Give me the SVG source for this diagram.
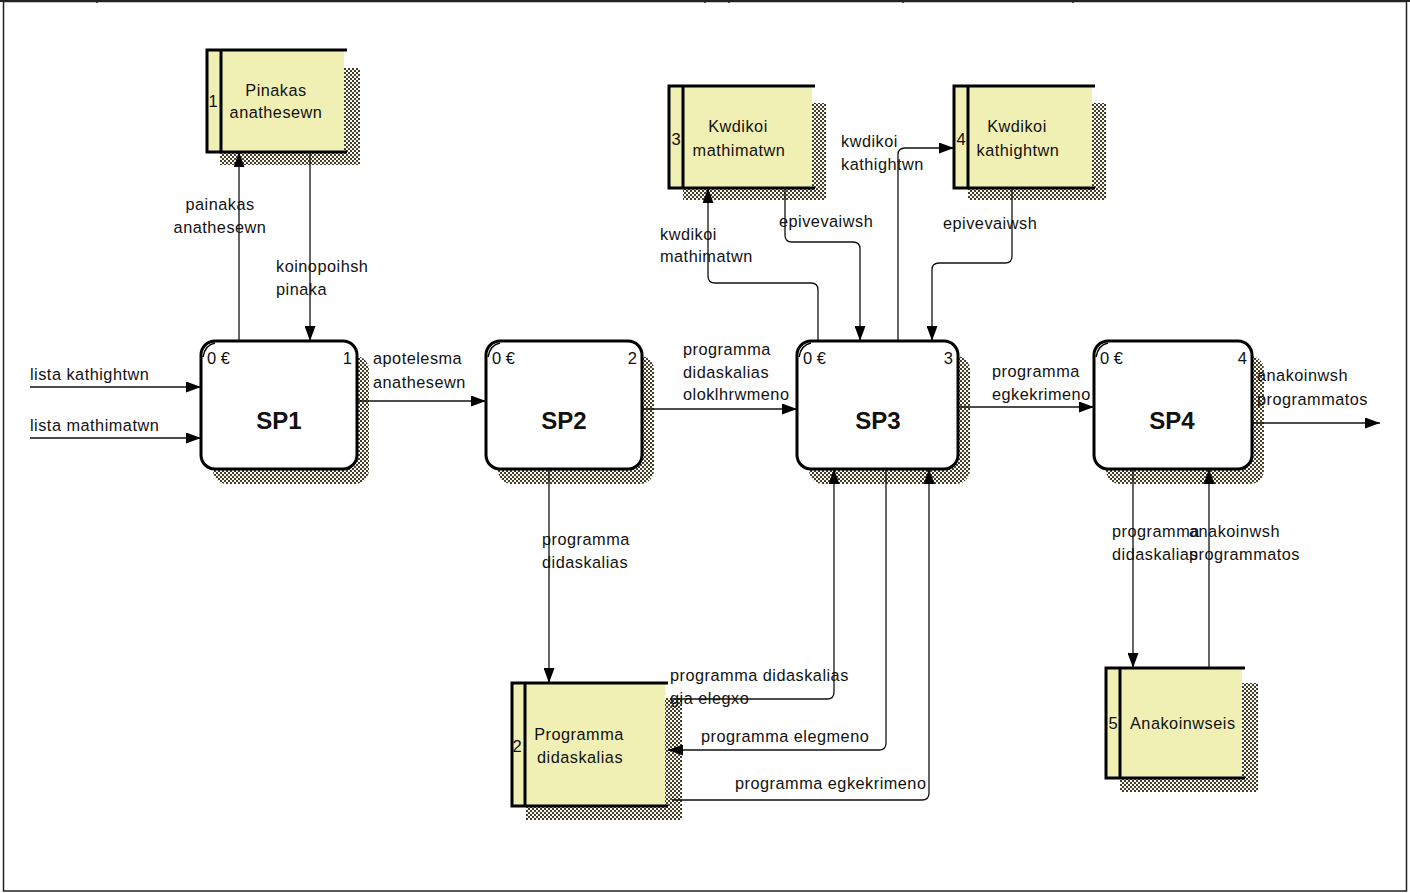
<svg xmlns="http://www.w3.org/2000/svg" width="1410" height="893" viewBox="0 0 1410 893">
  <style>
    .lbl { font-family: "Liberation Sans", Arial, sans-serif; font-size: 16.3px; letter-spacing: 0.5px; fill: #111; }
    .num { font-family: "Liberation Sans", Arial, sans-serif; font-size: 16.5px; fill: #111; }
    .sp { font-family: "Liberation Sans", Arial, sans-serif; font-size: 24px; font-weight: bold; fill: #111; text-anchor: middle; }
    .proc { fill: #ffffff; stroke: #000; stroke-width: 3; }
    .shadow { fill: url(#dots); }
    .storefill { fill: #f0efb4; stroke: none; }
    .storeline { stroke: #000; stroke-width: 3; fill: none; }
    .flow { fill: none; stroke: #111; stroke-width: 1.3; }
    .corner { fill: none; stroke: #000; stroke-width: 1.5; }
    .frame { fill: none; stroke: #222; stroke-width: 1.5; }
  </style>
  <defs>
    <pattern id="dots" width="4" height="4" patternUnits="userSpaceOnUse">
      <rect width="4" height="4" fill="#fdf9e4"/>
      <rect x="0" y="0" width="2" height="2" fill="#000" fill-opacity="0.75"/>
      <rect x="2" y="2" width="2" height="2" fill="#000" fill-opacity="0.75"/>
    </pattern>
    <marker id="arr" markerUnits="userSpaceOnUse" viewBox="0 0 15 11" markerWidth="15" markerHeight="11" refX="15" refY="5.5" orient="auto">
      <path d="M0,0 L15,5.5 L0,11 z" fill="#000"/>
    </marker>
  </defs>

  <!-- page frame -->
  <rect x="0" y="0" width="1410" height="893" fill="#ffffff"/>
  <rect x="3.5" y="1.5" width="1403" height="889.5" class="frame"/>
  <line x1="0" y1="1" x2="1410" y2="1" stroke="#222" stroke-width="2"/>
  <g stroke="#222" stroke-width="1.5">
    <line x1="97" y1="0" x2="97" y2="3"/>
    <line x1="705" y1="0" x2="705" y2="3"/>
    <line x1="729" y1="0" x2="729" y2="3"/>
    <line x1="903" y1="0" x2="903" y2="3"/>
    <line x1="1073" y1="0" x2="1073" y2="3"/>
  </g>

  <!-- data stores -->
  <g id="store1">
    <rect class="shadow" x="220" y="68" width="140" height="97"/>
    <rect class="storefill" x="207" y="50" width="137" height="102"/>
    <path class="storeline" d="M347 50 H207 V152 H347 M221 50 V152"/>
    <text class="num" x="213" y="107" text-anchor="middle">1</text>
    <text class="lbl" x="276" y="96" text-anchor="middle">Pinakas</text>
    <text class="lbl" x="276" y="118" text-anchor="middle">anathesewn</text>
  </g>

  <g id="store3">
    <rect class="shadow" x="683" y="103" width="143" height="97"/>
    <rect class="storefill" x="669" y="86" width="143" height="102"/>
    <path class="storeline" d="M815 86 H669 V188 H815 M683 86 V188"/>
    <text class="num" x="676" y="145" text-anchor="middle">3</text>
    <text class="lbl" x="738" y="132" text-anchor="middle">Kwdikoi</text>
    <text class="lbl" x="739" y="156" text-anchor="middle">mathimatwn</text>
  </g>

  <g id="store4">
    <rect class="shadow" x="968" y="103" width="138" height="97"/>
    <rect class="storefill" x="954" y="86" width="138" height="102"/>
    <path class="storeline" d="M1095 86 H954 V188 H1095 M968 86 V188"/>
    <text class="num" x="961" y="145" text-anchor="middle">4</text>
    <text class="lbl" x="1017" y="132" text-anchor="middle">Kwdikoi</text>
    <text class="lbl" x="1018" y="156" text-anchor="middle">kathightwn</text>
  </g>

  <g id="store2">
    <rect class="shadow" x="526" y="698" width="156" height="122"/>
    <rect class="storefill" x="512" y="683" width="153" height="123"/>
    <path class="storeline" d="M668 683 H512 V806 H668 M525 683 V806"/>
    <text class="num" x="517" y="752" text-anchor="middle">2</text>
    <text class="lbl" x="579" y="740" text-anchor="middle">Programma</text>
    <text class="lbl" x="580" y="763" text-anchor="middle">didaskalias</text>
  </g>

  <g id="store5">
    <rect class="shadow" x="1120" y="683" width="138" height="109"/>
    <rect class="storefill" x="1106" y="668" width="136" height="110"/>
    <path class="storeline" d="M1245 668 H1106 V778 H1245 M1120 668 V778"/>
    <text class="num" x="1113" y="729" text-anchor="middle">5</text>
    <text class="lbl" x="1130" y="729">Anakoinwseis</text>
  </g>

  <!-- processes -->
  <g id="sp1">
    <rect class="shadow" x="213" y="356" width="156" height="128" rx="14"/>
    <rect class="proc" x="201" y="341" width="156" height="128" rx="14"/>
    <path class="corner" d="M203 357 Q205 345 215 343"/>
    <text class="num" x="207" y="364">0 €</text>
    <text class="num" x="352" y="364" text-anchor="end">1</text>
    <text class="sp" x="279" y="429">SP1</text>
  </g>

  <g id="sp2">
    <rect class="shadow" x="498" y="356" width="156" height="128" rx="14"/>
    <rect class="proc" x="486" y="341" width="156" height="128" rx="14"/>
    <path class="corner" d="M488 357 Q490 345 500 343"/>
    <text class="num" x="492" y="364">0 €</text>
    <text class="num" x="637" y="364" text-anchor="end">2</text>
    <text class="sp" x="564" y="429">SP2</text>
  </g>

  <g id="sp3">
    <rect class="shadow" x="809" y="356" width="161" height="128" rx="14"/>
    <rect class="proc" x="797" y="341" width="161" height="128" rx="14"/>
    <path class="corner" d="M799 357 Q801 345 811 343"/>
    <text class="num" x="803" y="364">0 €</text>
    <text class="num" x="953" y="364" text-anchor="end">3</text>
    <text class="sp" x="878" y="429">SP3</text>
  </g>

  <g id="sp4">
    <rect class="shadow" x="1106" y="356" width="158" height="128" rx="14"/>
    <rect class="proc" x="1094" y="341" width="158" height="128" rx="14"/>
    <path class="corner" d="M1096 357 Q1098 345 1108 343"/>
    <text class="num" x="1100" y="364">0 €</text>
    <text class="num" x="1247" y="364" text-anchor="end">4</text>
    <text class="sp" x="1172" y="429">SP4</text>
  </g>

  <!-- data flows -->
  <g id="flows">
    <path class="flow" marker-end="url(#arr)" d="M30 387 H201"/>
    <path class="flow" marker-end="url(#arr)" d="M30 438 H201"/>
    <path class="flow" marker-end="url(#arr)" d="M239 341 V152"/>
    <path class="flow" marker-end="url(#arr)" d="M310 152 V341"/>
    <path class="flow" marker-end="url(#arr)" d="M357 401 H486"/>
    <path class="flow" marker-end="url(#arr)" d="M642 409 H797"/>
    <path class="flow" marker-end="url(#arr)" d="M958 407 H1094"/>
    <path class="flow" marker-end="url(#arr)" d="M1252 423 H1380"/>
    <path class="flow" marker-end="url(#arr)" d="M549 469 V683"/>
    <path class="flow" marker-end="url(#arr)" d="M670 699 H827 Q834 699 834 692 V469"/>
    <path class="flow" marker-end="url(#arr)" d="M886 469 V743 Q886 750 879 750 H668"/>
    <path class="flow" marker-end="url(#arr)" d="M672 800 H922 Q929 800 929 793 V469"/>
    <path class="flow" marker-end="url(#arr)" d="M818 341 V290 Q818 283 811 283 H715 Q708 283 708 276 V188"/>
    <path class="flow" marker-end="url(#arr)" d="M785 188 V235 Q785 242 792 242 H853 Q860 242 860 249 V341"/>
    <path class="flow" marker-end="url(#arr)" d="M898 341 V155 Q898 148 905 148 H954"/>
    <path class="flow" marker-end="url(#arr)" d="M1012 188 V256 Q1012 263 1005 263 H939 Q932 263 932 270 V341"/>
    <path class="flow" marker-end="url(#arr)" d="M1133 469 V668"/>
    <path class="flow" marker-end="url(#arr)" d="M1209 668 V469"/>

    <text class="lbl" x="30" y="380">lista kathightwn</text>
    <text class="lbl" x="30" y="431">lista mathimatwn</text>
    <text class="lbl" x="220" y="210" text-anchor="middle">painakas</text>
    <text class="lbl" x="220" y="233" text-anchor="middle">anathesewn</text>
    <text class="lbl" x="276" y="272">koinopoihsh</text>
    <text class="lbl" x="276" y="295">pinaka</text>
    <text class="lbl" x="373" y="364">apotelesma</text>
    <text class="lbl" x="373" y="388">anathesewn</text>
    <text class="lbl" x="683" y="355">programma</text>
    <text class="lbl" x="683" y="378">didaskalias</text>
    <text class="lbl" x="683" y="400">oloklhrwmeno</text>
    <text class="lbl" x="992" y="377">programma</text>
    <text class="lbl" x="992" y="400">egkekrimeno</text>
    <text class="lbl" x="1257" y="381">anakoinwsh</text>
    <text class="lbl" x="1257" y="405">programmatos</text>
    <text class="lbl" x="542" y="545">programma</text>
    <text class="lbl" x="542" y="568">didaskalias</text>
    <text class="lbl" x="670" y="681">programma didaskalias</text>
    <text class="lbl" x="670" y="704">gia elegxo</text>
    <text class="lbl" x="701" y="742">programma elegmeno</text>
    <text class="lbl" x="735" y="789">programma egkekrimeno</text>
    <text class="lbl" x="660" y="240">kwdikoi</text>
    <text class="lbl" x="660" y="262">mathimatwn</text>
    <text class="lbl" x="779" y="227">epivevaiwsh</text>
    <text class="lbl" x="841" y="147">kwdikoi</text>
    <text class="lbl" x="841" y="170">kathightwn</text>
    <text class="lbl" x="943" y="229">epivevaiwsh</text>
    <text class="lbl" x="1112" y="537">programma</text>
    <text class="lbl" x="1112" y="560">didaskalias</text>
    <text class="lbl" x="1189" y="537">anakoinwsh</text>
    <text class="lbl" x="1189" y="560">programmatos</text>
  </g>
</svg>
